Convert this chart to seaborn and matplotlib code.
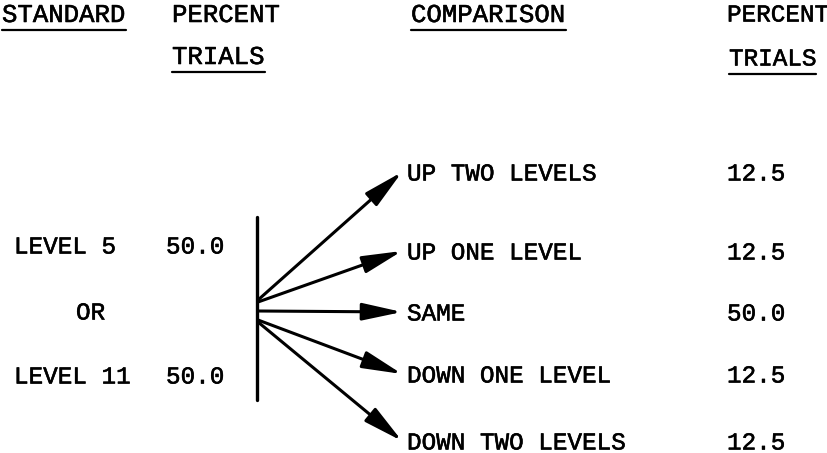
import matplotlib
matplotlib.use("Agg")
import matplotlib.pyplot as plt
import matplotlib.patheffects as pe
import seaborn as sns

# standard side
standards = ["LEVEL 5", "LEVEL 11"]
standard_pct = [50.0, 50.0]

# comparison side
comparisons = ["UP TWO LEVELS", "UP ONE LEVEL", "SAME", "DOWN ONE LEVEL", "DOWN TWO LEVELS"]
comparison_pct = [12.5, 12.5, 50.0, 12.5, 12.5]

sns.set_theme(style="white")
plt.rcParams["font.family"] = ["Liberation Mono", "DejaVu Sans Mono"]

fig = plt.figure(figsize=(8.27, 4.53), dpi=100)
ax = fig.add_axes([0, 0, 1, 1])
ax.set_xlim(0, 827)
ax.set_ylim(453, 0)
ax.axis("off")

fs = 17.5
hfs = 18.5
ink = "#000000"
# typewriter ink is a bit heavier than the regular face
txt = dict(va="center", color=ink,
           path_effects=[pe.withStroke(linewidth=0.4, foreground=ink)])

# headers (text, underlined?)
headers = [
    (ax.text(2, 15, "STANDARD", fontsize=hfs, **txt), True),
    (ax.text(172, 15, "PERCENT", fontsize=hfs, **txt), False),
    (ax.text(172, 57, "TRIALS", fontsize=hfs, **txt), True),
    (ax.text(411, 15, "COMPARISON", fontsize=hfs, **txt), True),
    (ax.text(727, 15, "PERCENT", fontsize=fs, **txt), False),
    (ax.text(729, 59, "TRIALS", fontsize=fs, **txt), True),
]

# left block
left_y = [247, 377]
for lab, pct, y in zip(standards, standard_pct, left_y):
    ax.text(14, y, lab, fontsize=fs, **txt)
    ax.text(166, y, f"{pct:.1f}", fontsize=fs, **txt)
ax.text(76, 313, "OR", fontsize=fs, **txt)

# vertical bar
sns.lineplot(x=[257, 257], y=[217, 400], color=ink, linewidth=2.4, ax=ax,
             estimator=None, sort=False)

# comparison rows with arrows
row_y = [172, 251, 312, 374, 441]
start_y = [300, 302, 311, 320, 322]
for lab, pct, y, sy in zip(comparisons, comparison_pct, row_y, start_y):
    ax.text(407, y + 2, lab, fontsize=fs, **txt)
    ax.text(727, y + 2, f"{pct:.1f}", fontsize=fs, **txt)
    ax.annotate("", xy=(402, y), xytext=(258, sy),
                arrowprops=dict(arrowstyle="-|>,head_length=1.1,head_width=0.24",
                                lw=2.2, color=ink, mutation_scale=22,
                                shrinkA=0, shrinkB=0))

# underlines
fig.canvas.draw()
inv = ax.transData.inverted()
for t, ul in headers:
    if not ul:
        continue
    bb = t.get_window_extent()
    (x0, y0), (x1, y1) = inv.transform([(bb.x0, bb.y0), (bb.x1, bb.y1)])
    ax.plot([x0, x1], [y0 + 3, y0 + 3], color=ink, lw=1.6)

fig.savefig("out.png", dpi=100, facecolor="white")
